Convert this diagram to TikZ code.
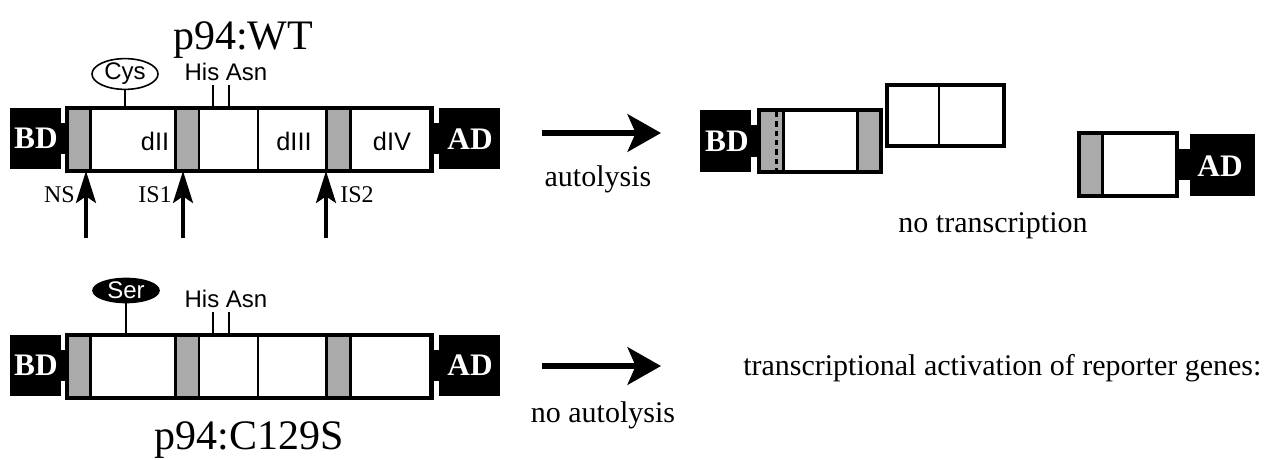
\documentclass[tikz,border=0pt]{standalone}
\usepackage{fontspec}
\setmainfont{Liberation Serif}
\newfontfamily\sansf{Liberation Sans}
\usetikzlibrary{arrows.meta,shapes.geometric}
\definecolor{segGray}{RGB}{170,170,170}
\tikzset{
  frame/.style={draw=black, line width=3.5pt},
  divline/.style={draw=black, line width=2.1pt},
  grayseg/.style={fill=segGray},
  blk/.style={fill=black},
  stem/.style={draw=black, line width=1.2pt},
  uparrow/.style={draw=black, line width=2.6pt, -{Stealth[length=24pt,width=15pt,inset=5pt]}},
  bigarrow/.style={draw=black, line width=4.5pt, -{Stealth[length=25pt,width=28pt,inset=6pt]}},
  serlabel/.style={font=\fontsize{22.5pt}{27pt}\selectfont, inner sep=0pt, anchor=base},
  title/.style={font=\fontsize{31.5pt}{36pt}\selectfont, inner sep=0pt, anchor=base},
  boxlabel/.style={font=\fontsize{23.5pt}{27pt}\selectfont\bfseries, text=white, inner sep=0pt, anchor=base},
  sitelabel/.style={font=\fontsize{18pt}{21pt}\selectfont, inner sep=0pt, anchor=base},
  sanslabel/.style={font=\sansf\fontsize{18pt}{21pt}\selectfont, inner sep=0pt, anchor=base},
  domlabel/.style={font=\sansf\fontsize{19pt}{22pt}\selectfont, inner sep=0pt, anchor=base},
  residue/.style={ellipse, draw=black, line width=1.2pt, minimum width=49.5pt, minimum height=18pt, inner sep=0pt, font=\sansf\fontsize{18pt}{21pt}\selectfont},
  dashcut/.style={draw=black, line width=1.6pt, dash pattern=on 4pt off 3pt}
}
\begin{document}
\begin{tikzpicture}[x=0.75pt,y=-0.75pt]
\useasboundingbox[fill=white] (0,0) rectangle (1288,460);

% ===== two full constructs (top WT, bottom C129S) =====
\foreach \dy in {0,227}{
  \begin{scope}[shift={(0,\dy)}]
    % BD and AD blocks with linkers
    \fill[blk] (10,108) rectangle (61,169);
    \fill[blk] (60,123) rectangle (68,154);
    \fill[blk] (432,123) rectangle (440,154);
    \fill[blk] (439,108) rectangle (500,169);
    % white interior
    \fill[white] (67,108) rectangle (431.5,171);
    % gray segments
    \fill[grayseg] (69,110) rectangle (90.5,169);
    \fill[grayseg] (175.5,110) rectangle (199,169);
    \fill[grayseg] (326.5,110) rectangle (350.5,169);
    % dividers
    \foreach \xx in {90.5,175.5,199,258,326.5,350.5}{
      \draw[divline] (\xx,110) -- (\xx,169);
    }
    % outer frame
    \draw[frame] (67,108) rectangle (431.5,171);
  \end{scope}
}

% ----- top construct labels -----
\node[title] (wt) at (243,50) {p94:WT};
\node[boxlabel] (bd1) at (36,148) {BD};
\node[boxlabel] (ad1) at (470,149) {AD};
\node[domlabel] (d2) at (155,150) {dII};
\node[domlabel] (d3) at (294,150) {dIII};
\node[domlabel] (d4) at (392,150) {dIV};
\node[residue] (cys) at (125,74) {Cys};
\coordinate (cysfoot) at (cys.south |- 0,106);
\draw[stem] (cys.south) -- (cysfoot);
\node[sanslabel] (ha1) at (226,80) {His Asn};
\coordinate (his1a) at (213,85); \coordinate (his1b) at (213,106);
\coordinate (asn1a) at (229,85); \coordinate (asn1b) at (229,106);
\draw[stem] (his1a) -- (his1b);
\draw[stem] (asn1a) -- (asn1b);

% cleavage site arrows
\coordinate (ns0) at (86,238);   \coordinate (ns1) at (86,171);
\coordinate (is10) at (183,238); \coordinate (is11) at (183,171);
\coordinate (is20) at (326,238); \coordinate (is21) at (326,171);
\draw[uparrow] (ns0) -- (ns1);
\draw[uparrow] (is10) -- (is11);
\draw[uparrow] (is20) -- (is21);
\node[sitelabel, anchor=base east] (ns) at (75,202) {NS};
\node[sitelabel, anchor=base east] (is1) at (172,202) {IS1};
\node[sitelabel, anchor=base west] (is2) at (340,202) {IS2};

% ----- bottom construct labels -----
\node[boxlabel] (bd2) at (36,375) {BD};
\node[boxlabel] (ad2) at (470,375) {AD};
\node[residue, fill=black, text=white] (ser) at (126,290.5) {Ser};
\coordinate (serfoot) at (ser.south |- 0,333);
\draw[stem] (ser.south) -- (serfoot);
\node[sanslabel] (ha2) at (226,307) {His Asn};
\coordinate (his2a) at (213,312); \coordinate (his2b) at (213,333);
\coordinate (asn2a) at (229,312); \coordinate (asn2b) at (229,333);
\draw[stem] (his2a) -- (his2b);
\draw[stem] (asn2a) -- (asn2b);
\node[title] (mut) at (249,449) {p94:C129S};

% ----- reaction arrows -----
\coordinate (a1s) at (542,133); \coordinate (a1e) at (661,133);
\draw[bigarrow] (a1s) -- (a1e);
\node[serlabel] (auto) at (598,186) {autolysis};
\coordinate (a2s) at (542,366); \coordinate (a2e) at (661,366);
\draw[bigarrow] (a2s) -- (a2e);
\node[serlabel] (noauto) at (603,422) {no autolysis};
\node[serlabel, anchor=base west] (trans) at (743,375) {transcriptional activation of reporter genes:};

% ----- fragment 1: BD + NS-dII -----
\fill[blk] (700,110) rectangle (751,172);
\fill[blk] (750,125) rectangle (759,157);
\fill[white] (759,110) rectangle (881,172);
\fill[grayseg] (761,112) rectangle (783.5,170);
\fill[grayseg] (857.5,112) rectangle (879,170);
\draw[dashcut] (776.5,112) -- (776.5,170);
\draw[divline] (783.5,112) -- (783.5,170);
\draw[divline] (857.5,112) -- (857.5,170);
\draw[frame] (759,110) rectangle (881,172);
\node[boxlabel] (bd3) at (727,151) {BD};

% ----- fragment 2: dIII-ish piece -----
\fill[white] (887,85) rectangle (1004,146);
\draw[divline] (939,87) -- (939,144);
\draw[frame] (887,85) rectangle (1004,146);

% ----- fragment 3: IS2-dIV + AD -----
\fill[blk] (1176,149) rectangle (1191,180);
\fill[blk] (1190,134) rectangle (1255,196);
\fill[white] (1079,133) rectangle (1177,196);
\fill[grayseg] (1081,135) rectangle (1102.5,194);
\draw[divline] (1102.5,135) -- (1102.5,194);
\draw[frame] (1079,133) rectangle (1177,196);
\node[boxlabel] (ad3) at (1220,176) {AD};

\node[serlabel] (notr) at (993,232) {no transcription};
\end{tikzpicture}
\end{document}
